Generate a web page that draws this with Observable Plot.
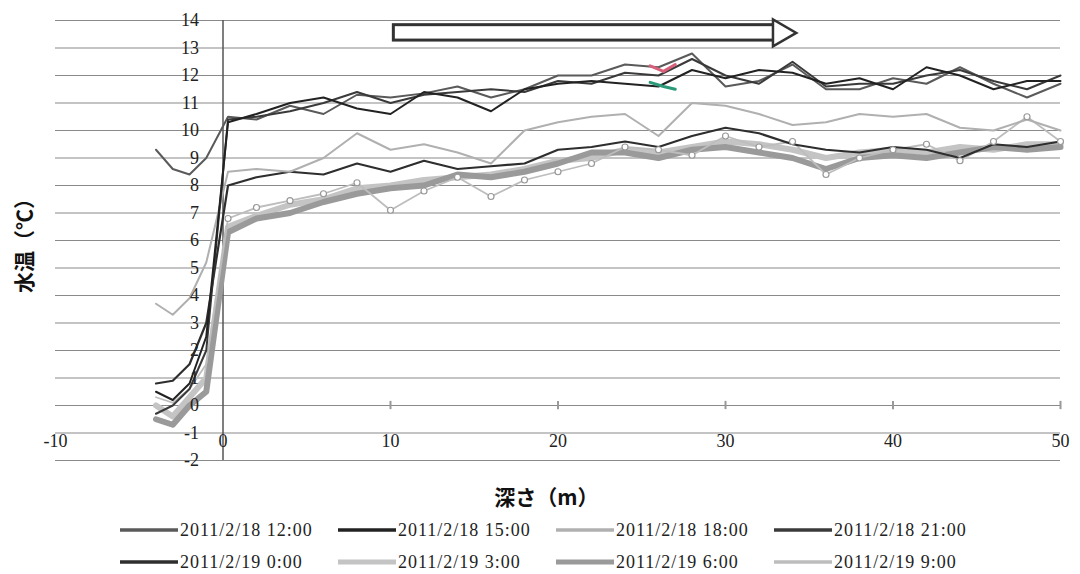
<!DOCTYPE html>
<html>
<head>
<meta charset="utf-8">
<script src="https://cdn.jsdelivr.net/npm/d3@7"></script>
<script src="https://cdn.jsdelivr.net/npm/@observablehq/plot@0.6"></script>
<style>
  body { margin: 0; background: #fff; }
  #chart { width: 1080px; }
  #legend { position: relative; width: 1080px; height: 64px; font-family: "Liberation Serif", "DejaVu Serif", serif; font-size: 18px; letter-spacing: 1px; color: #222; }
  .item { position: absolute; display: flex; align-items: center; height: 22px; }
</style>
</head>
<body>
<div id="chart"></div>
<div id="legend"></div>
<script>
// depth (m)
const depths = [-4, -3, -2, -1, 0.3, 2, 4, 6, 8, 10, 12, 14, 16, 18, 20, 22, 24, 26, 28, 30, 32, 34, 36, 38, 40, 42, 44, 46, 48, 50];

const seriesNames = ["2011/2/18 12:00", "2011/2/18 15:00", "2011/2/18 18:00", "2011/2/18 21:00",
                     "2011/2/19 0:00", "2011/2/19 3:00", "2011/2/19 6:00", "2011/2/19 9:00"];

// water temperature (℃)
const t_18_1200 = [9.3, 8.6, 8.4, 9.0, 10.5, 10.4, 10.9, 10.6, 11.3, 11.2, 11.35, 11.6, 11.2, 11.5, 12.0, 12.0, 12.4, 12.3, 12.8, 11.6, 11.8, 12.4, 11.5, 11.5, 11.9, 11.7, 12.3, 11.7, 11.2, 11.7];
const t_18_1500 = [0.5, 0.2, 0.8, 2.5, 10.3, 10.6, 11.0, 11.2, 10.8, 10.6, 11.4, 11.2, 10.7, 11.5, 11.7, 11.8, 11.7, 11.6, 12.2, 11.9, 12.2, 12.1, 11.7, 11.9, 11.5, 12.3, 12.0, 11.5, 11.8, 11.8];
const t_18_1800 = [3.7, 3.3, 3.9, 5.2, 8.5, 8.6, 8.5, 9.0, 9.9, 9.3, 9.5, 9.2, 8.8, 10.0, 10.3, 10.5, 10.6, 9.8, 11.0, 10.9, 10.6, 10.2, 10.3, 10.6, 10.5, 10.6, 10.1, 10.0, 10.4, 10.0];
const t_18_2100 = [-0.3, 0.0, 0.6, 2.0, 10.4, 10.5, 10.7, 11.0, 11.4, 11.0, 11.3, 11.4, 11.5, 11.4, 11.8, 11.7, 12.1, 12.0, 12.6, 12.0, 11.7, 12.5, 11.6, 11.7, 11.7, 12.0, 12.2, 11.8, 11.5, 12.0];
const t_19_0000 = [0.8, 0.9, 1.5, 3.0, 8.0, 8.3, 8.5, 8.4, 8.8, 8.5, 8.9, 8.6, 8.7, 8.8, 9.3, 9.4, 9.6, 9.4, 9.8, 10.1, 9.9, 9.5, 9.3, 9.2, 9.4, 9.3, 9.0, 9.5, 9.4, 9.6];
const t_19_0300 = [0.0, -0.4, 0.3, 1.0, 6.5, 6.9, 7.3, 7.5, 7.9, 8.0, 8.2, 8.3, 8.4, 8.6, 8.9, 9.0, 9.3, 9.2, 9.4, 9.6, 9.5, 9.3, 9.0, 9.2, 9.3, 9.2, 9.4, 9.3, 9.5, 9.5];
const t_19_0600 = [-0.5, -0.7, 0.0, 0.5, 6.3, 6.8, 7.0, 7.4, 7.7, 7.9, 8.0, 8.4, 8.3, 8.5, 8.8, 9.2, 9.2, 9.0, 9.3, 9.4, 9.2, 9.0, 8.6, 9.0, 9.1, 9.0, 9.2, 9.4, 9.3, 9.4];
const t_19_0900 = [0.3, 0.1, 0.6, 1.5, 6.8, 7.2, 7.45, 7.7, 8.1, 7.1, 7.8, 8.3, 7.6, 8.2, 8.5, 8.8, 9.4, 9.3, 9.1, 9.8, 9.4, 9.6, 8.4, 9.0, 9.3, 9.5, 8.9, 9.6, 10.5, 9.6];

const seriesValues = [t_18_1200, t_18_1500, t_18_1800, t_18_2100, t_19_0000, t_19_0300, t_19_0600, t_19_0900];
const seriesColors = ["#5a5a5a", "#222222", "#b0b0b0", "#3a3a3a", "#2e2e2e", "#c4c4c4", "#9a9a9a", "#bdbdbd"];
const seriesWidths = [2, 2, 2, 2, 2.2, 6, 6, 1.8];
const drawOrder = [5, 6, 7, 4, 2, 0, 3, 1];

// small coloured fragments near 26 m
const pinkDepth = [25.5, 26.3, 27.0];
const pinkTemp = [12.35, 12.15, 12.4];
const tealDepth = [25.5, 26.3, 27.0];
const tealTemp = [11.75, 11.6, 11.5];

// arrow annotation
const arrowStart = 10.2, arrowEnd = 33.0, arrowTemp = 13.55, arrowLow = 13.27, arrowHigh = 13.83;

const xTicks = [-10, 0, 10, 20, 30, 40, 50];
const yTicks = [-2, -1, 0, 1, 2, 3, 4, 5, 6, 7, 8, 9, 10, 11, 12, 13, 14];
const xTitle = "深さ（m）";
const yTitle = "水温（℃）";

const rows = [];
seriesValues.forEach((vals, si) => vals.forEach((v, i) => rows.push({series: seriesNames[si], idx: si, depth: depths[i], temp: v})));
const pink = pinkDepth.map((d, i) => ({depth: d, temp: pinkTemp[i]}));
const teal = tealDepth.map((d, i) => ({depth: d, temp: tealTemp[i]}));

const serif = "'Liberation Serif', 'DejaVu Serif', serif";
const marks = [
  Plot.ruleY(yTicks, {stroke: "#8a8a8a", strokeWidth: 1.2}),
  Plot.ruleX([0], {stroke: "#555", strokeWidth: 1.5}),
  Plot.ruleX(xTicks.filter(d => d > 0), {x: d => d, y1: -0.15, y2: 0.15, stroke: "#999", strokeWidth: 2}),
];
for (const si of drawOrder) {
  marks.push(Plot.line(rows.filter(r => r.idx === si), {x: "depth", y: "temp", stroke: seriesColors[si], strokeWidth: seriesWidths[si], curve: "linear"}));
}
marks.push(Plot.dot(rows.filter(r => r.idx === 7 && r.depth > 0), {x: "depth", y: "temp", r: 3, stroke: "#999", fill: "white", strokeWidth: 1.2}));
marks.push(Plot.line(pink, {x: "depth", y: "temp", stroke: "#d9607a", strokeWidth: 3}));
marks.push(Plot.line(teal, {x: "depth", y: "temp", stroke: "#2a9a78", strokeWidth: 3}));
// arrow
marks.push(Plot.rect([{x1: arrowStart, x2: arrowEnd, y1: arrowLow, y2: arrowHigh}], {x1: "x1", x2: "x2", y1: "y1", y2: "y2", fill: "white", stroke: "#333", strokeWidth: 3}));
marks.push(Plot.dot([{x: arrowEnd, y: arrowTemp}], {x: "x", y: "y", symbol: "triangle", rotate: 90, r: 10, fill: "white", stroke: "#333", strokeWidth: 2.5, dx: 5}));
// tick labels
marks.push(Plot.text(yTicks, {x: 0, y: d => d, text: d => String(d), dx: -24, textAnchor: "end", fontSize: 18, fontFamily: serif, fill: "#222"}));
marks.push(Plot.text(xTicks, {x: d => d, y: -1.3, text: d => String(d), fontSize: 18, fontFamily: serif, fill: "#222"}));
// titles
marks.push(Plot.text([xTitle], {x: 19.3, y: -2, dy: 38, text: d => d, fontSize: 21, fontWeight: "bold", fontFamily: "Noto Sans CJK JP", fill: "#111"}));
marks.push(Plot.text([yTitle], {x: -10, y: 6, dx: -30, rotate: -90, text: d => d, fontSize: 21, fontWeight: "bold", fontFamily: "Noto Sans CJK JP", fill: "#111"}));

const chart = Plot.plot({
  width: 1080, height: 510,
  marginLeft: 55, marginRight: 20, marginTop: 20, marginBottom: 50,
  x: {domain: [-10, 50], axis: null},
  y: {domain: [-2, 14], axis: null},
  style: {background: "white", overflow: "visible"},
  marks
});
document.getElementById("chart").appendChild(chart);

// legend
const legend = document.getElementById("legend");
const colLeft = [118, 336, 554, 772];
seriesNames.forEach((name, i) => {
  const item = document.createElement("div");
  item.className = "item";
  item.style.left = colLeft[i % 4] + "px";
  item.style.top = (i < 4 ? 9 : 41) + "px";
  const sw = d3.create("svg").attr("width", 62).attr("height", 22);
  sw.append("line").attr("x1", 2).attr("x2", 60).attr("y1", 11).attr("y2", 11)
    .attr("stroke", seriesColors[i]).attr("stroke-width", Math.min(seriesWidths[i] + 1.5, 5));
  item.appendChild(sw.node());
  const span = document.createElement("span");
  span.textContent = name;
  item.appendChild(span);
  legend.appendChild(item);
});
</script>
</body>
</html>
